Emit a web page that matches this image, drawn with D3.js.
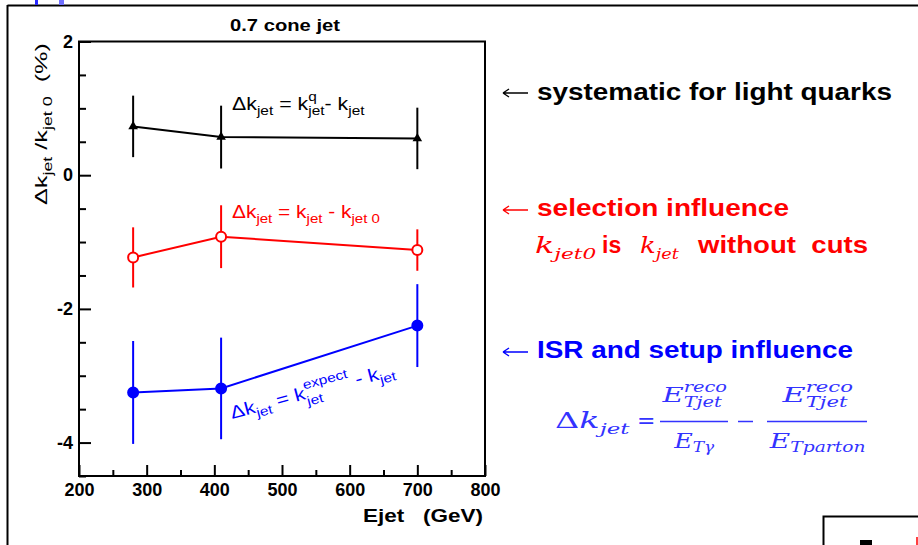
<!DOCTYPE html>
<html>
<head>
<meta charset="utf-8">
<script src="https://cdn.jsdelivr.net/npm/d3@7"></script>
<style>
  html, body { margin: 0; padding: 0; background: #fff; }
  svg { display: block; }
</style>
</head>
<body>
<svg id="chart" width="918" height="545"></svg>
<script>
// Jet energy scale shifts versus jet energy, 0.7 cone jets
const energies   = [280, 410, 700];            // Ejet (GeV)
const lightQuark = [0.73, 0.57, 0.55];         // Δk_jet / k_jet0 (%)
const lightQuarkErr = [0.46, 0.47, 0.46];
const selection  = [-1.23, -0.92, -1.12];
const selectionErr = [0.45, 0.47, 0.31];
const isrSetup   = [-3.25, -3.19, -2.25];
const isrSetupErr = [0.77, 0.76, 0.62];

const xMajorTicks = [200, 300, 400, 500, 600, 700, 800];
const xMinorTicks = [250, 350, 450, 550, 650, 750];
const yMajorTicks = [-4, -2, 0, 2];
const yMinorTicks = [-4.5, -3.5, -3, -2.5, -1.5, -1, -0.5, 0.5, 1, 1.5];

const svg = d3.select("#chart");
const SANS = "'Liberation Sans', Arial, Helvetica, sans-serif";
const SERIF = "'DejaVu Serif', 'Liberation Serif', serif";

// page frame
svg.append("line").attr("x1", 7.5).attr("x2", 918).attr("y1", 5.5).attr("y2", 5.5)
  .attr("stroke", "#000").attr("stroke-width", 2);
svg.append("line").attr("x1", 7.5).attr("x2", 7.5).attr("y1", 5).attr("y2", 545)
  .attr("stroke", "#000").attr("stroke-width", 2);
svg.append("rect").attr("x", 35).attr("y", 0).attr("width", 3).attr("height", 5).attr("fill", "#2a2aff");
svg.append("rect").attr("x", 59).attr("y", 0).attr("width", 5).attr("height", 5).attr("fill", "#7070ff");
// corner box
svg.append("rect").attr("x", 823.5).attr("y", 516.5).attr("width", 120).attr("height", 60)
  .attr("fill", "none").attr("stroke", "#000").attr("stroke-width", 2);
svg.append("rect").attr("x", 860).attr("y", 540).attr("width", 12).attr("height", 5).attr("fill", "#000");
svg.append("rect").attr("x", 916).attr("y", 537).attr("width", 2).attr("height", 8).attr("fill", "#ff4040");

// plot area
const L = 79, R = 485, T = 41.5, B = 476;
const x = d3.scaleLinear().domain([200, 800]).range([L, R]);
const y = d3.scaleLinear().domain([-4.5, 2]).range([B, T]);

const plot = svg.append("g");

// axes
const yAxisMajor = d3.axisLeft(y).tickValues(yMajorTicks).tickSizeInner(-12).tickSizeOuter(0)
  .tickPadding(6).tickFormat(d => String(d));
const yAxisMinor = d3.axisLeft(y).tickValues(yMinorTicks).tickSizeInner(-7).tickSizeOuter(0)
  .tickFormat("");
const xAxisMajor = d3.axisBottom(x).tickValues(xMajorTicks).tickSizeInner(-11).tickSizeOuter(0)
  .tickPadding(7).tickFormat(d => String(d));
const xAxisMinor = d3.axisBottom(x).tickValues(xMinorTicks).tickSizeInner(-6).tickSizeOuter(0)
  .tickFormat("");

function styleAxis(g) {
  g.select(".domain").remove();
  g.selectAll(".tick line").attr("stroke", "#000").attr("stroke-width", 2);
  g.selectAll(".tick text").attr("fill", "#000")
    .style("font-family", SANS).style("font-weight", "bold").style("font-size", "18px");
}
plot.append("g").attr("transform", `translate(${L},0)`).call(yAxisMajor).call(styleAxis);
plot.append("g").attr("transform", `translate(${L},0)`).call(yAxisMinor).call(styleAxis);
plot.append("g").attr("transform", `translate(0,${B})`).call(xAxisMajor).call(styleAxis);
plot.append("g").attr("transform", `translate(0,${B})`).call(xAxisMinor).call(styleAxis);

// plot frame
plot.append("rect").attr("x", L).attr("y", T).attr("width", R - L).attr("height", B - T)
  .attr("fill", "none").attr("stroke", "#000").attr("stroke-width", 2);

// series
const series = [
  { vals: lightQuark, err: lightQuarkErr, color: "#000", marker: "triangle" },
  { vals: selection, err: selectionErr, color: "#ff0000", marker: "open" },
  { vals: isrSetup, err: isrSetupErr, color: "#0000ff", marker: "filled" }
];
const line = d3.line().x((d, i) => x(energies[i])).y(d => y(d));

series.forEach(s => {
  const g = plot.append("g");
  g.append("path").attr("d", line(s.vals)).attr("fill", "none")
    .attr("stroke", s.color).attr("stroke-width", 2);
  g.selectAll("line.err").data(s.vals).join("line")
    .attr("x1", (d, i) => x(energies[i])).attr("x2", (d, i) => x(energies[i]))
    .attr("y1", (d, i) => y(d + s.err[i])).attr("y2", (d, i) => y(d - s.err[i]))
    .attr("stroke", s.color).attr("stroke-width", 2);
  if (s.marker === "triangle") {
    g.selectAll("path.m").data(s.vals).join("path")
      .attr("d", d3.symbol(d3.symbolTriangle, 40)())
      .attr("transform", (d, i) => `translate(${x(energies[i])},${y(d)})`)
      .attr("fill", s.color);
  } else {
    g.selectAll("circle.m").data(s.vals).join("circle")
      .attr("cx", (d, i) => x(energies[i])).attr("cy", d => y(d)).attr("r", 5)
      .attr("fill", s.marker === "open" ? "#fff" : s.color)
      .attr("stroke", s.color).attr("stroke-width", 2);
  }
});

// lays out a run of text pieces with sub/superscripts; optional overall width
function rich(parent, x0, y0, pieces, base, width) {
  const outer = parent.append("g").attr("transform", `translate(${x0},${y0})`);
  const g = outer.append("g");
  let cx = 0, lastStart = 0, lastEnd = 0;
  pieces.forEach(p => {
    const px = p.stack ? lastStart : cx;
    const t = g.append("text").attr("x", px).attr("y", p.dy || 0)
      .text(p.t)
      .style("font-family", p.family || base.family)
      .style("font-size", (p.fs || base.fs) + "px")
      .style("font-weight", p.weight || base.weight || "normal")
      .style("font-style", p.style || base.style || "normal")
      .attr("fill", base.color)
      .attr("xml:space", "preserve");
    const w = t.node().getComputedTextLength();
    if (p.stack) {
      cx = Math.max(lastEnd, px + w);
    } else {
      lastStart = px;
      lastEnd = px + w;
      cx = px + w;
    }
    cx += (p.gap || 0);
  });
  if (width) {
    const bb = g.node().getBBox();
    g.attr("transform", `scale(${width / bb.width},1) translate(${-bb.x},0)`);
  }
  return outer;
}

// in-plot formulas
rich(plot, 232, 110, [
  { t: "Δk" }, { t: "jet", fs: 13, dy: 5 }, { t: " = k" },
  { t: "q", fs: 13, dy: -9 }, { t: "jet", fs: 13, dy: 5, stack: true },
  { t: "- k" }, { t: "jet", fs: 13, dy: 5 }
], { family: SANS, fs: 18, color: "#000" }, 133);

rich(plot, 232, 218, [
  { t: "Δk" }, { t: "jet", fs: 13, dy: 5 }, { t: " = k" }, { t: "jet", fs: 13, dy: 5 },
  { t: " - k" }, { t: "jet 0", fs: 13, dy: 5 }
], { family: SANS, fs: 18, color: "#ff0000" }, 148);

const blueWrap = plot.append("g").attr("transform", "translate(232,419) rotate(-15)");
rich(blueWrap, 0, 0, [
  { t: "Δk" }, { t: "jet", fs: 13, dy: 5 }, { t: " = k" },
  { t: "expect", fs: 13, dy: -10 }, { t: "jet", fs: 13, dy: 7, stack: true },
  { t: " - k" }, { t: "jet", fs: 13, dy: 5 }
], { family: SANS, fs: 18, color: "#0000ff" }, 170);

// title and axis labels
svg.append("text").attr("x", 230).attr("y", 31)
  .style("font-family", SANS).style("font-weight", "bold").style("font-size", "17px")
  .attr("textLength", 110).attr("lengthAdjust", "spacingAndGlyphs")
  .text("0.7 cone jet");

svg.append("text").attr("x", 363).attr("y", 522)
  .style("font-family", SANS).style("font-weight", "bold").style("font-size", "19px")
  .attr("xml:space", "preserve")
  .attr("textLength", 120).attr("lengthAdjust", "spacingAndGlyphs")
  .text("Ejet   (GeV)");

const yWrap = svg.append("g").attr("transform", "translate(47,205) rotate(-90)");
rich(yWrap, 0, 0, [
  { t: "Δk" }, { t: "jet", fs: 12, dy: 5 }, { t: " /k" }, { t: "jet 0", fs: 12, dy: 5 },
  { t: "  (%)" }
], { family: SANS, fs: 17, color: "#000" }, 162);

// side notes
function arrowNote(yArrow, yText, color, label, textLen) {
  svg.append("path")
    .attr("d", `M503,${yArrow}H528M503,${yArrow}L509,${yArrow - 4}M503,${yArrow}L509,${yArrow + 4}`)
    .attr("stroke", color).attr("stroke-width", 1.4).attr("fill", "none");
  svg.append("text").attr("x", 537).attr("y", yText)
    .style("font-family", SANS).style("font-weight", "bold").style("font-size", "23px")
    .attr("fill", color).attr("textLength", textLen).attr("lengthAdjust", "spacingAndGlyphs")
    .text(label);
}
arrowNote(93, 100, "#000", "systematic for light quarks", 355);
arrowNote(210, 216, "#ff0000", "selection influence", 252);
arrowNote(352, 358, "#0000ff", "ISR and setup influence", 316);

// k_jet0 is k_jet without cuts
rich(svg, 535, 253, [
  { t: "k", family: SERIF, style: "italic", fs: 22 },
  { t: "jet0", family: SERIF, style: "italic", fs: 15, dy: 6 }
], { family: SANS, fs: 23, color: "#ff0000" }, 62);
svg.append("text").attr("x", 602).attr("y", 253).attr("fill", "#ff0000")
  .style("font-family", SANS).style("font-weight", "bold").style("font-size", "23px").text("is");
rich(svg, 640, 253, [
  { t: "k", family: SERIF, style: "italic", fs: 22 },
  { t: "jet", family: SERIF, style: "italic", fs: 15, dy: 6 }
], { family: SANS, fs: 23, color: "#ff0000" }, 40);
svg.append("text").attr("x", 698).attr("y", 253).attr("fill", "#ff0000")
  .style("font-family", SANS).style("font-weight", "bold").style("font-size", "23px")
  .attr("xml:space", "preserve")
  .attr("textLength", 170).attr("lengthAdjust", "spacingAndGlyphs")
  .text("without  cuts");

// Δk_jet = E^reco_Tjet / E_Tγ − E^reco_Tjet / E_Tparton
const fc = "#3333ff";
const fx = svg.append("g");
rich(fx, 555, 428, [
  { t: "Δ", style: "normal" }, { t: "k" }, { t: "jet", fs: 15, dy: 6 }
], { family: SERIF, fs: 22, color: fc, style: "italic" }, 76);
fx.append("text").attr("x", 637).attr("y", 428).style("font-family", SERIF)
  .style("font-size", "22px").attr("fill", fc).text("=");
function frac(x0, x1, numW, denomSub, denW) {
  fx.append("line").attr("x1", x0).attr("x2", x1).attr("y1", 421.5).attr("y2", 421.5)
    .attr("stroke", fc).attr("stroke-width", 1.5);
  const mid = (x0 + x1) / 2;
  rich(fx, mid - numW / 2, 402, [
    { t: "E" }, { t: "reco", fs: 14, dy: -10 }, { t: "Tjet", fs: 14, dy: 5, stack: true }
  ], { family: SERIF, fs: 21, color: fc, style: "italic" }, numW);
  rich(fx, mid - denW / 2, 448, [
    { t: "E" }, { t: denomSub, fs: 14, dy: 4 }
  ], { family: SERIF, fs: 21, color: fc, style: "italic" }, denW);
}
frac(660, 728, 66, "Tγ", 42);
fx.append("line").attr("x1", 738).attr("x2", 753).attr("y1", 421.5).attr("y2", 421.5)
  .attr("stroke", fc).attr("stroke-width", 1.5);
frac(767, 867, 72, "Tparton", 97);
</script>
</body>
</html>
